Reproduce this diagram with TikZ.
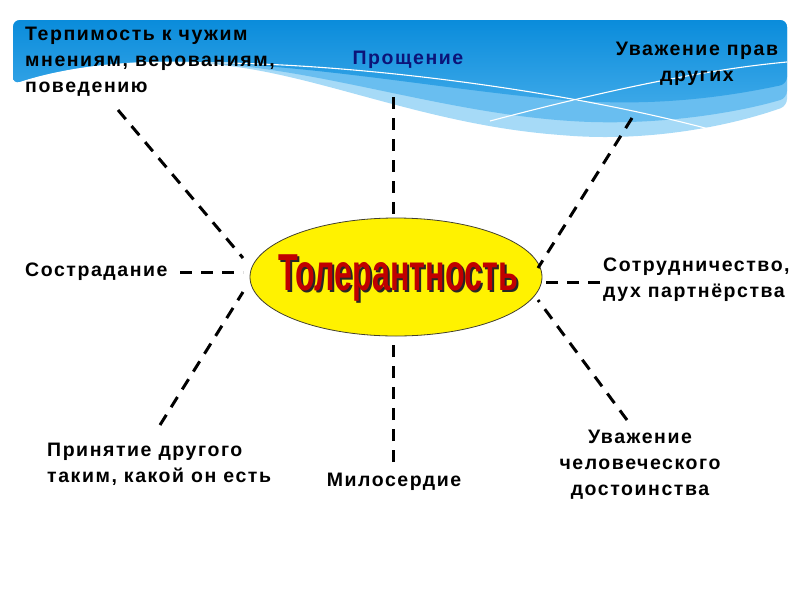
\documentclass[tikz,border=0pt]{standalone}
\usepackage{fontspec}
\setmainfont{Liberation Sans}
\newfontfamily\lblfont[LetterSpace=8]{Liberation Sans}
\newfontfamily\tolfont[FakeStretch=0.62]{Liberation Sans}
\usetikzlibrary{shapes.geometric, positioning}
\definecolor{wavetop}{RGB}{10,140,219}
\definecolor{wavedark}{RGB}{60,168,232}
\definecolor{wavemid}{RGB}{105,190,240}
\definecolor{wavelight}{RGB}{166,218,247}
\definecolor{navytext}{RGB}{12,20,120}
\definecolor{tolred}{RGB}{192,0,0}

\begin{document}
\begin{tikzpicture}[
    x=1pt, y=-1pt,
    lbl/.style={font=\lblfont\bfseries\fontsize{19.5}{26}\selectfont, inner sep=0pt},
    spoke/.style={line width=3pt, dash pattern=on 12pt off 9pt},
    core/.style={ellipse, draw=black!70!olive, line width=0.8pt, fill=yellow,
                 minimum width=292pt, minimum height=118pt},
    coretext/.style={font=\tolfont\bfseries\fontsize{52}{52}\selectfont, inner sep=0pt},
]
\useasboundingbox (0,0) rectangle (800,600);
% blue wave band at the top
\fill[wavelight, rounded corners=7pt] (13,84) -- (13,20) -- (787,20) -- (787,106)
   .. controls (730,126) and (650,142) .. (560,135)
   .. controls (430,124) and (330,80) .. (230,66)
   .. controls (160,58) and (80,62) .. cycle;
\fill[wavemid, rounded corners=7pt] (13,84) -- (13,20) -- (787,20) -- (787,98)
   .. controls (740,112) and (660,126) .. (570,121)
   .. controls (450,112) and (340,76) .. (230,65)
   .. controls (160,58) and (80,62) .. cycle;
\shade[top color=wavetop, bottom color=wavedark, rounded corners=7pt] (13,84) -- (13,20) -- (787,20) -- (787,84)
   .. controls (740,94) and (680,104) .. (600,102)
   .. controls (500,98) and (350,70) .. (230,64)
   .. controls (160,58) and (80,62) .. cycle;
\draw[white, line width=1.1pt] (180,63) .. controls (330,60) and (560,88) .. (720,132);
\draw[white, line width=1.1pt] (490,121) .. controls (600,92) and (700,70) .. (787,62);

% centre
\node[core] (tol) at (396,277) {};
\node[coretext, text=black!85] (tolsh) at (400,292) [anchor=base] {Толерантность};
\node[coretext, text=tolred] (toltx) at (398,290) [anchor=base] {Толерантность};

% labels
\node[lbl, align=left, anchor=west] (terp) at (25,62) {Терпимость к чужим\\мнениям, верованиям,\\поведению};
\node[lbl, text=navytext] (prosh) at (408,60) {Прощение};
\node[lbl, align=center] (prav) at (697,64) {Уважение прав\\других};
\node[lbl, anchor=west] (sostr) at (25,272) {Сострадание};
\node[lbl, align=left, anchor=west] (sotr) at (603,280) {Сотрудничество,\\дух партнёрства};
\node[lbl, align=left, anchor=west] (prin) at (47,464) {Принятие другого\\таким, какой он есть};
\node[lbl] (milo) at (394,482) {Милосердие};
\node[lbl, align=center] (dost) at (640,465) {Уважение\\человеческого\\достоинства};

% dashed spokes
\coordinate (a1) at (118,110); \coordinate (b1) at (243,258);
\coordinate (a2) at (393,97);  \coordinate (b2) at (393,222);
\coordinate (a3) at (632,118); \coordinate (b3) at (538,268);
\coordinate (a4) at (180,272); \coordinate (b4) at (243,272);
\coordinate (a5) at (600,282); \coordinate (b5) at (545,282);
\coordinate (a6) at (160,425); \coordinate (b6) at (243,292);
\coordinate (a7) at (393,462); \coordinate (b7) at (393,340);
\coordinate (a8) at (627,420); \coordinate (b8) at (538,300);
\foreach \i in {1,...,8}{\draw[spoke] (a\i) -- (b\i);}
\end{tikzpicture}
\end{document}
